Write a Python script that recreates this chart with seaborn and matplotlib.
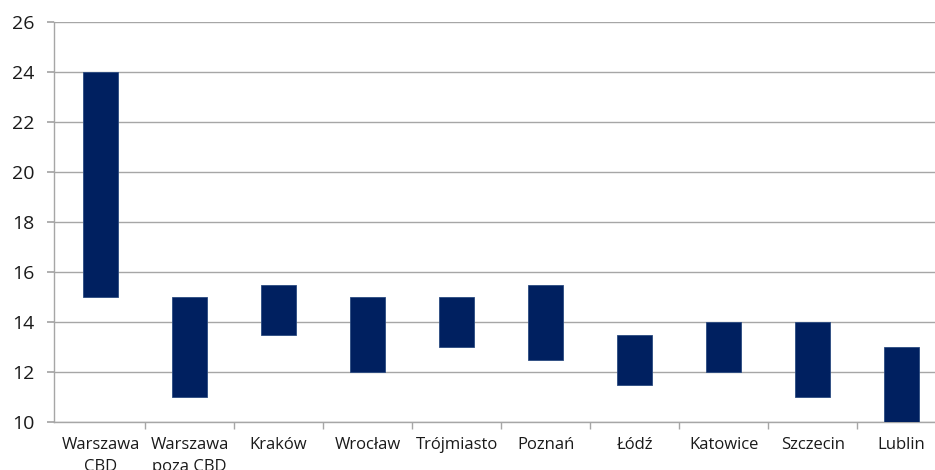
import matplotlib
matplotlib.use("Agg")
import matplotlib.pyplot as plt
import seaborn as sns
import pandas as pd
import numpy as np
from matplotlib.ticker import FixedLocator

categories = ["Warszawa\nCBD", "Warszawa\npoza CBD", "Kraków", "Wrocław", "Trójmiasto",
              "Poznań", "Łódź", "Katowice", "Szczecin", "Lublin"]
low = [15, 11, 13.5, 12, 13, 12.5, 11.5, 12, 11, 10]
high = [24, 15, 15.5, 15, 15, 15.5, 13.5, 14, 14, 13]
y_ticks = [10, 12, 14, 16, 18, 20, 22, 24, 26]

df = pd.DataFrame({"cat": categories, "low": low, "high": high})
df["span"] = df["high"] - df["low"]

sns.set_theme(style="white")
plt.rcParams["font.family"] = ["Open Sans", "DejaVu Sans"]

fig = plt.figure(figsize=(9.35, 4.7), dpi=100)
ax = fig.add_axes([0.058, 0.102, 0.954, 0.851])

sns.barplot(data=df, x="cat", y="span", bottom=df["low"].values, order=categories,
            color="#002060", saturation=1, width=0.39, ax=ax,
            edgecolor="#2a4a80", linewidth=0.6, zorder=3)

ax.set_ylim(10, 26)
ax.set_xlim(-0.52, len(categories) - 0.5)
ax.set_yticks(y_ticks)
ax.yaxis.grid(True, color="#a6a6a6", linewidth=1.0, zorder=0)
ax.set_axisbelow(True)
ax.set_xlabel("")
ax.set_ylabel("")

for s in ["top", "right"]:
    ax.spines[s].set_visible(False)
for s in ["left", "bottom"]:
    ax.spines[s].set_color("#a6a6a6")
    ax.spines[s].set_linewidth(1.0)

ax.tick_params(axis="y", which="major", length=5, color="#a6a6a6", labelsize=14,
               labelcolor="#1a1a1a", pad=9, left=True)
ax.tick_params(axis="x", which="major", length=0, labelsize=12, labelcolor="#1a1a1a", pad=11)
ax.xaxis.set_minor_locator(FixedLocator(np.arange(0.5, len(categories) - 0.5, 1.0)))
ax.tick_params(axis="x", which="minor", length=5, color="#a6a6a6", width=1.0, bottom=True)
for lbl in ax.get_xticklabels():
    lbl.set_linespacing(1.45)

fig.savefig("out.png", dpi=100)
